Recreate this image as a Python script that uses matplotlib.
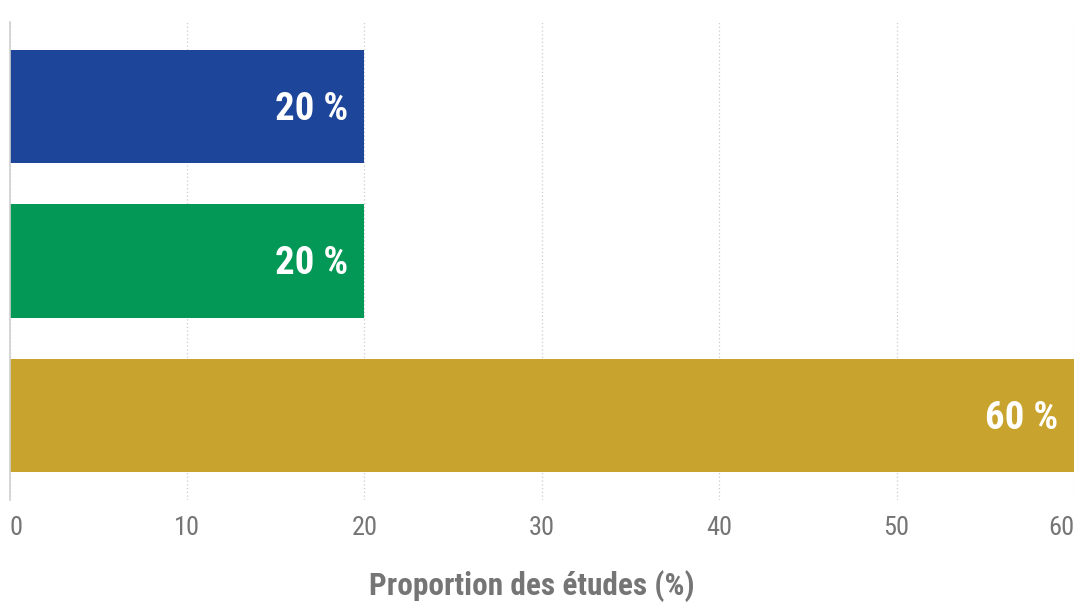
import matplotlib.pyplot as plt
from matplotlib import font_manager

categories = ["A", "B", "C"]
values = [20, 20, 60]
colors = ["#1D4599", "#039856", "#C8A32D"]
xticks = [0, 10, 20, 30, 40, 50, 60]
xlabel = "Proportion des études (%)"

names = {f.name for f in font_manager.fontManager.ttflist}
family = "Roboto Condensed" if "Roboto Condensed" in names else "Roboto"
plt.rcParams["font.family"] = [family, "DejaVu Sans"]

fig = plt.figure(figsize=(10.76, 6.03), dpi=100)
ax = fig.add_axes([9.5 / 1076, 1 - 500 / 603, (1074 - 9.5) / 1076, (500 - 22) / 603])

pos = list(range(len(categories)))
ax.barh(pos, values, height=0.735, color=colors, zorder=2)
for p, v in zip(pos, values):
    ax.annotate(f"{v} %", (v, p), xytext=(-11.5, -2), textcoords="offset points",
                ha="right", va="center", color="white", fontsize=28,
                fontweight="bold")

ax.set_xlim(0, 60)
ax.set_ylim(len(categories) - 0.453, -0.547)
ax.set_yticks([])
ax.set_xticks(xticks)
ax.set_xticklabels([])
for t in xticks:
    ha = "left" if t == xticks[0] else ("right" if t == xticks[-1] else "center")
    ax.text(t, -0.058, str(t), transform=ax.get_xaxis_transform(), ha=ha,
            va="center", fontsize=19, color="#757575")
ax.tick_params(length=0)
ax.grid(axis="x", linestyle=(0, (1, 2)), color="#cccccc", linewidth=0.9, zorder=0)
for s in ["top", "right", "bottom"]:
    ax.spines[s].set_visible(False)
ax.spines["left"].set_color("#d0d0d0")
ax.spines["left"].set_linewidth(1.2)

fig.text(532 / 1076, 1 - 586 / 603, xlabel, ha="center", va="center",
         fontsize=22.5, fontweight="bold", color="#757575")

fig.savefig("out.png", dpi=100)
